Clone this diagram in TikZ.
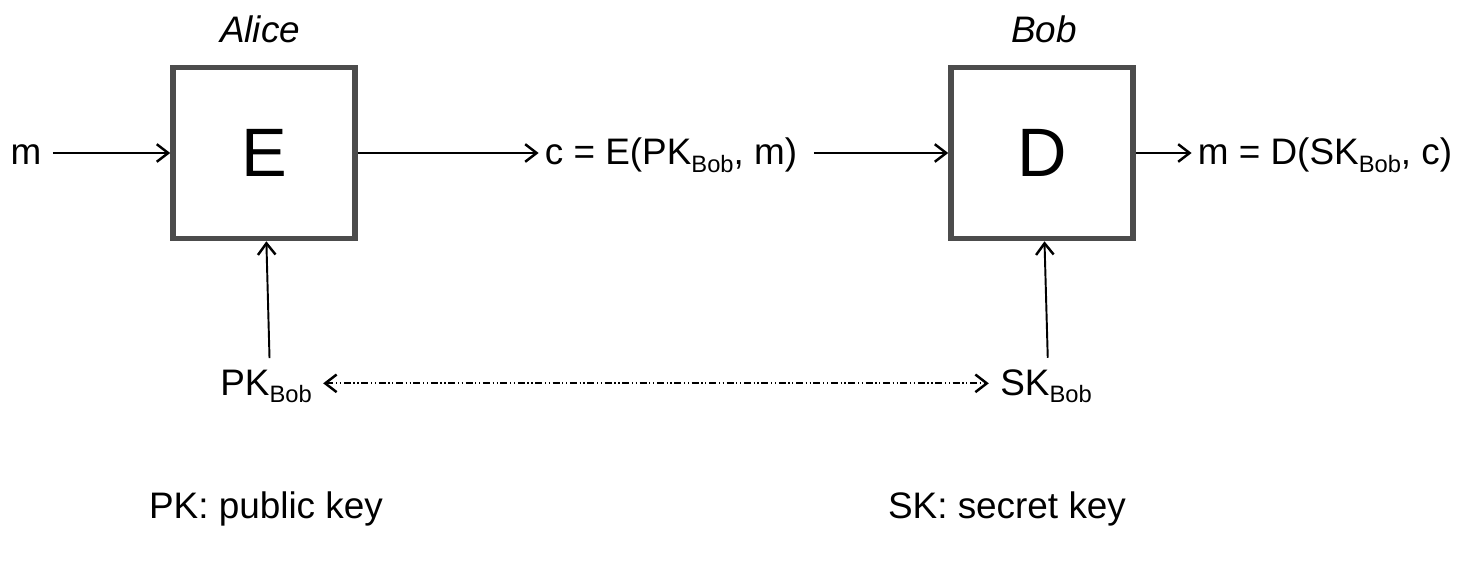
\documentclass[tikz,border=0pt]{standalone}
\usepackage{fontspec}
\setmainfont{Liberation Sans}
\usetikzlibrary{arrows.meta}
\newcommand{\bobsub}{\raisebox{-4.5pt}{\fontsize{13.5}{15}\selectfont Bob}}

\begin{document}
\begin{tikzpicture}[x=0.02cm,y=-0.02cm,font=\fontsize{21}{25}\selectfont,
	blk/.style={draw=black!70,line width=3.2pt,fill=white,minimum width=3.64cm,minimum height=3.42cm,font=\fontsize{39}{45}\selectfont},
	arr/.style={-{Straight Barb[length=6.5pt,width=10pt,line width=1.4pt]},line width=1.1pt},
	dd/.style={{Straight Barb[length=6.5pt,width=10pt,line width=1.4pt]}-{Straight Barb[length=6.5pt,width=10pt,line width=1.4pt]},line width=1pt,dash pattern=on 4pt off 1.5pt on 0.7pt off 1.5pt on 0.7pt off 1.5pt}]
			\useasboundingbox (0,0) rectangle (1464,564);
			\node[blk] (E) at (264,153) {E};
			\node[blk] (D) at (1042,153) {D};
			\node[anchor=base,font=\fontsize{21}{25}\selectfont\itshape] (alice) at (260,43) {Alice};
			\node[anchor=base,font=\fontsize{21}{25}\selectfont\itshape] (bob) at (1044,43) {Bob};
			\node[anchor=base] (m) at (26,165) {m};
			\node[anchor=base] (c) at (671,165) {c = E(PK\bobsub, m)};
			\node[anchor=base] (mout) at (1325,165) {m = D(SK\bobsub, c)};
			\node[anchor=base] (pk) at (266,395) {PK\bobsub};
			\node[anchor=base] (sk) at (1046,395) {SK\bobsub};
			\node[anchor=base] (pklabel) at (266,518) {PK: public key};
			\node[anchor=base] (sklabel) at (1007,518) {SK: secret key};
			\draw[arr,shorten <=3pt] (m.east |- E) -- (E);
			\draw[arr] (E) -- (c.west |- E);
			\draw[arr,shorten <=6pt] (c.east |- D) -- (D);
			\draw[arr] (D) -- (mout.west |- D);
			\draw[arr] ([xshift=2pt,yshift=3pt]pk.north) -- (E);
			\draw[arr] ([xshift=1pt,yshift=3pt]sk.north) -- (D);
			\draw[dd,shorten <=3pt,shorten >=3pt] ([yshift=4pt]pk.mid east) -- ([yshift=4pt]sk.mid west);
		\end{tikzpicture}
\end{document}
